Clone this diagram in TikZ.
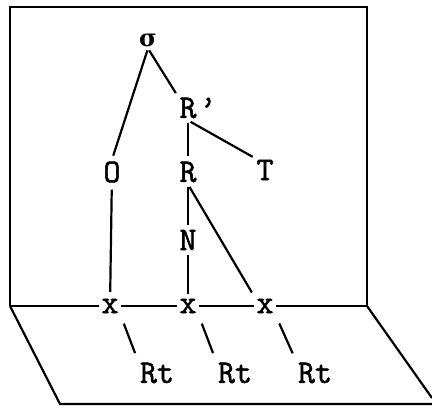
\documentclass[tikz,border=0pt]{standalone}
\usepackage{fontspec}
\newfontfamily\greekfont{DejaVu Serif}
\newfontfamily\typefont[FakeBold=1.6]{Latin Modern Mono}
\usetikzlibrary{positioning}

\tikzset{
  lbl/.style={font=\typefont\fontsize{33}{33}\selectfont, inner sep=1pt},
  edge/.style={line width=2.2pt}
}

\begin{document}
\begin{tikzpicture}[x=1pt, y=-1pt, line width=2.2pt]
  \useasboundingbox (0,0) rectangle (432,407);

  % the two planes
  \coordinate (pl) at (10,306);
  \coordinate (pr) at (367,306);
  \draw (pl) -- (10,7) -- (367,7) -- (pr);
  \draw (pl) -- (60,404) -- (432,404);
  \draw (pr) -- (432,398);

  % tree
  \node[lbl] (sigma) at (148,40) {\greekfont\bfseries\fontsize{24}{24}\selectfont σ};
  \node[lbl] (rbar) at (188,108) {R\rlap{\kern3pt’}};
  \node[lbl] (o) at (112,172) {O};
  \node[lbl] (r) at (188,172) {R};
  \node[lbl] (t) at (265,170) {T};
  \node[lbl] (n) at (188,240) {N};

  % skeleton and roots
  \foreach \i/\x/\rx in {1/110/157, 2/188/235, 3/265/315}{
    \node[lbl] (x\i) at (\x,306) {x};
    \node[lbl] (rt\i) at (\rx,373) {Rt};
    \draw[edge, shorten <=9pt, shorten >=8pt] (x\i.south east) -- (rt\i.north west);
  }

  \draw[shorten <=2pt, shorten >=4pt] (sigma.south) -- (o.north);
  \draw[shorten <=2pt, shorten >=3pt] (sigma.south) -- (rbar.north west);
  \draw[shorten <=3pt, shorten >=4pt] (rbar.south) -- (r.north);
  \draw[shorten <=3pt, shorten >=2pt] (rbar.south) -- (t.north west);
  \draw[shorten <=5pt, shorten >=5pt] (o) -- (x1);
  \draw[shorten <=3pt, shorten >=3pt] (r) -- (n);
  \draw[shorten <=3pt, shorten >=3pt] (n) -- (x2);
  \draw[shorten <=3pt, shorten >=5pt] (r.south) -- (x3.north west);
  \draw (pl) -- (x1) -- (x2) -- (x3) -- (pr);
\end{tikzpicture}
\end{document}
